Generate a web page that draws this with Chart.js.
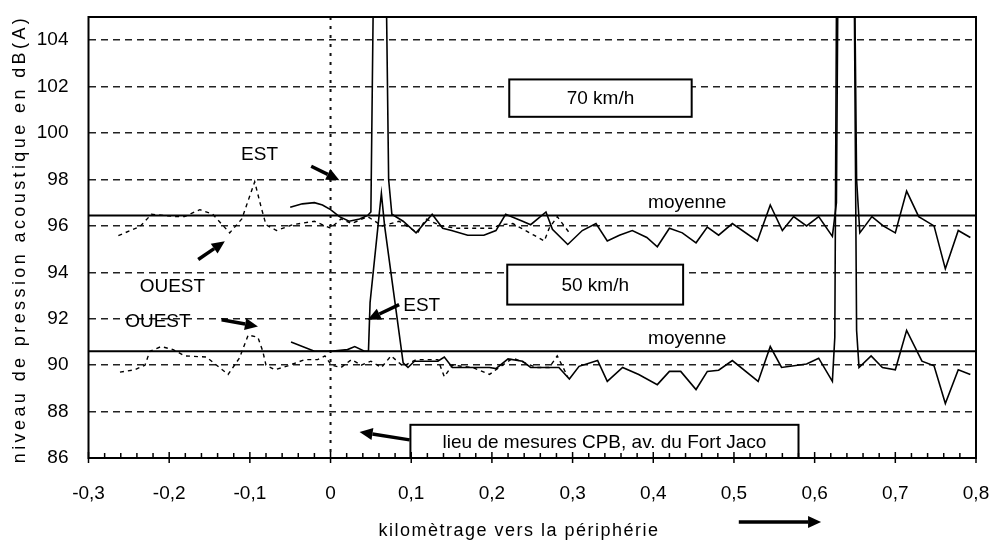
<!DOCTYPE html>
<html>
<head>
<meta charset="utf-8">
<title>Niveau de pression acoustique</title>
<script src="https://cdn.jsdelivr.net/npm/chart.js@4.4.1/dist/chart.umd.min.js"></script>
<style>
  html, body { margin: 0; padding: 0; background: #fff; }
  #wrap { width: 992px; height: 544px; }
</style>
</head>
<body>
<div id="wrap"><canvas id="chart" width="992" height="544"></canvas></div>
<script>
// 70 km/h, sens EST (trait plein)
const est70Km = [-0.05, -0.035, -0.02, -0.01, 0, 0.011, 0.023, 0.036, 0.046, 0.05, 0.055, 0.067, 0.072, 0.076, 0.09,
  0.106, 0.126, 0.139, 0.15, 0.17, 0.19, 0.205, 0.217, 0.238, 0.248, 0.267, 0.275, 0.294, 0.312, 0.329, 0.343, 0.358,
  0.374, 0.392, 0.405, 0.42, 0.436, 0.453, 0.467, 0.481, 0.498, 0.529, 0.545, 0.56, 0.574, 0.59, 0.605, 0.622, 0.627,
  0.63, 0.648, 0.652, 0.656, 0.671, 0.685, 0.7, 0.714, 0.729, 0.748, 0.762, 0.778, 0.793];
const est70Db = [96.8, 96.95, 97.0, 96.9, 96.7, 96.4, 96.2, 96.3, 96.45, 96.6, 112, 112, 98, 96.5, 96.2,
  95.7, 96.5, 95.9, 95.8, 95.6, 95.6, 95.8, 96.5, 96.2, 96.05, 96.6, 95.85, 95.2, 95.8, 96.1, 95.35, 95.6,
  95.8, 95.5, 95.1, 95.9, 95.7, 95.27, 95.95, 95.6, 96.1, 95.35, 96.9, 95.8, 96.4, 96.0, 96.4, 95.55, 97,
  112, 112, 98, 95.7, 96.4, 96.0, 95.7, 97.5, 96.4, 96.0, 94.15, 95.8, 95.5];

// 70 km/h, sens OUEST (tirets)
const ouest70Km = [-0.263, -0.236, -0.222, -0.191, -0.181, -0.162, -0.146, -0.125, -0.11, -0.094, -0.086, -0.08,
  -0.067, -0.047, -0.02, 0, 0.013, 0.026, 0.046, 0.064, 0.085, 0.108, 0.118, 0.137, 0.156, 0.18, 0.2, 0.211, 0.226,
  0.252, 0.265, 0.271, 0.281, 0.296];
const ouest70Db = [95.58, 95.98, 96.5, 96.4, 96.4, 96.7, 96.5, 95.7, 96.3, 97.9, 96.8, 96.05,
  95.8, 96.05, 96.2, 95.9, 96.3, 96.1, 96.4, 96.0, 96.2, 95.7, 96.3, 96.0, 95.9, 95.9, 95.9, 96.05, 96.1,
  95.6, 95.35, 95.9, 96.4, 95.7];

// 50 km/h, sens EST (trait plein)
const est50Km = [-0.049, -0.02, 0, 0.021, 0.03, 0.042, 0.047, 0.049, 0.063, 0.067, 0.09, 0.096, 0.104, 0.133, 0.141,
  0.151, 0.197, 0.205, 0.22, 0.238, 0.248, 0.267, 0.283, 0.296, 0.308, 0.331, 0.343, 0.362, 0.382, 0.405, 0.42,
  0.434, 0.453, 0.467, 0.481, 0.498, 0.53, 0.545, 0.559, 0.59, 0.605, 0.622, 0.625, 0.628, 0.648, 0.652, 0.655,
  0.67, 0.684, 0.7, 0.714, 0.733, 0.748, 0.762, 0.778, 0.793];
const est50Db = [91.0, 90.6, 90.6, 90.67, 90.8, 90.6, 90.6, 92.7, 97.4, 96.0, 90.1, 89.9, 90.17, 90.17, 90.35,
  89.9, 89.9, 89.85, 90.27, 90.17, 89.9, 89.9, 89.9, 89.4, 89.95, 90.2, 89.3, 89.9, 89.6, 89.16, 89.73,
  89.73, 88.95, 89.73, 89.78, 90.2, 89.3, 90.8, 89.9, 90.05, 90.3, 89.3, 91.2, 112, 112, 91.5, 89.9,
  90.4, 89.9, 89.8, 91.5, 90.17, 89.97, 88.35, 89.8, 89.6];

// 50 km/h, sens OUEST (tirets)
const ouest50Km = [-0.261, -0.243, -0.23, -0.224, -0.21, -0.195, -0.181, -0.154, -0.127, -0.113, -0.102, -0.09,
  -0.084, -0.08, -0.069, -0.053, -0.032, -0.016, -0.007, 0.001, 0.013, 0.026, 0.038, 0.05, 0.063, 0.075, 0.09,
  0.106, 0.133, 0.141, 0.151, 0.176, 0.197, 0.209, 0.226, 0.255, 0.271, 0.281, 0.294];
const ouest50Db = [89.7, 89.8, 90.0, 90.6, 90.8, 90.67, 90.4, 90.35, 89.6, 90.3, 91.3, 91.2,
  90.6, 90.0, 89.8, 89.97, 90.24, 90.24, 90.4, 90.0, 89.9, 90.24, 90.0, 90.17, 89.9, 90.4, 89.95,
  90.24, 90.24, 89.5, 90.0, 89.9, 89.6, 89.9, 90.3, 89.9, 89.9, 90.4, 89.5];

// moyennes
const moyenne70 = 96.45;
const moyenne50 = 90.6;

const xMin = -0.3, xMax = 0.8;
const yMin = 86, yMax = 105;

const xTitle = 'kilomètrage vers la périphérie';
const yTitle = 'niveau de pression acoustique en dB(A)';

const FONT = '"Liberation Sans", Arial, sans-serif';

function toPoints(xs, ys) {
  return xs.map((x, i) => ({ x: x, y: ys[i] }));
}

function flatLine(v) {
  return [{ x: xMin, y: v }, { x: xMax, y: v }];
}

// annotations (data coordinates)
const labels = [
  { text: 'EST', x: -0.088, y: 99.06 },
  { text: 'OUEST', x: -0.196, y: 93.36 },
  { text: 'OUEST', x: -0.214, y: 91.85 },
  { text: 'EST', x: 0.113, y: 92.54 },
  { text: 'moyenne', x: 0.442, y: 97.0 },
  { text: 'moyenne', x: 0.442, y: 91.15 }
];
const boxes = [
  { text: '70 km/h', x0: 0.2215, x1: 0.4476, y0: 102.31, y1: 100.7 },
  { text: '50 km/h', x0: 0.219, x1: 0.437, y0: 94.33, y1: 92.61 },
  { text: 'lieu de mesures CPB, av. du Fort Jaco', x0: 0.099, x1: 0.58, y0: 87.43, y1: 86 }
];
const arrows = [
  [-0.024, 98.57, 0.011, 97.97],
  [-0.164, 94.55, -0.131, 95.34],
  [-0.135, 91.96, -0.09, 91.67],
  [0.085, 92.61, 0.046, 91.96],
  [0.098, 86.78, 0.036, 87.12]
];

function drawArrow(ctx, x1, y1, x2, y2) {
  const ang = Math.atan2(y2 - y1, x2 - x1);
  const head = 13, half = 6;
  const bx = x2 - head * Math.cos(ang), by = y2 - head * Math.sin(ang);
  ctx.lineWidth = 3.5;
  ctx.beginPath();
  ctx.moveTo(x1, y1);
  ctx.lineTo(bx, by);
  ctx.stroke();
  ctx.beginPath();
  ctx.moveTo(x2, y2);
  ctx.lineTo(bx + half * Math.sin(ang), by - half * Math.cos(ang));
  ctx.lineTo(bx - half * Math.sin(ang), by + half * Math.cos(ang));
  ctx.closePath();
  ctx.fill();
}

const decorations = {
  id: 'decorations',
  beforeDatasetsDraw(chart) {
    const { ctx, chartArea, scales: { x } } = chart;
    // dotted vertical line at km 0
    const x0 = x.getPixelForValue(0);
    ctx.save();
    ctx.strokeStyle = '#111';
    ctx.lineWidth = 2;
    ctx.setLineDash([3, 6]);
    ctx.beginPath();
    ctx.moveTo(x0, chartArea.top);
    ctx.lineTo(x0, chartArea.bottom);
    ctx.stroke();
    ctx.restore();
  },
  afterDatasetsDraw(chart) {
    const { ctx, chartArea, scales: { x, y } } = chart;
    ctx.save();
    ctx.fillStyle = '#000';
    ctx.strokeStyle = '#000';

    // boxes
    ctx.font = '19px ' + FONT;
    ctx.textAlign = 'center';
    ctx.textBaseline = 'middle';
    boxes.forEach(b => {
      const l = x.getPixelForValue(b.x0), r = x.getPixelForValue(b.x1);
      const t = y.getPixelForValue(b.y0), bt = y.getPixelForValue(b.y1);
      ctx.fillStyle = '#fff';
      ctx.fillRect(l, t, r - l, bt - t);
      ctx.lineWidth = 2;
      ctx.strokeRect(l, t, r - l, bt - t);
      ctx.fillStyle = '#000';
      ctx.fillText(b.text, (l + r) / 2, (t + bt) / 2 + 1);
    });

    labels.forEach(lb => {
      ctx.fillText(lb.text, x.getPixelForValue(lb.x), y.getPixelForValue(lb.y));
    });

    arrows.forEach(a => {
      drawArrow(ctx, x.getPixelForValue(a[0]), y.getPixelForValue(a[1]),
        x.getPixelForValue(a[2]), y.getPixelForValue(a[3]));
    });

    // arrow next to the x axis title
    const ay = chartArea.bottom + 64;
    drawArrow(ctx, x.getPixelForValue(0.506), ay, x.getPixelForValue(0.608), ay);

    // minor / major ticks on the x axis
    ctx.lineWidth = 1.5;
    for (let i = 0; i <= 55; i++) {
      const px = x.getPixelForValue(xMin + i * 0.02);
      const major = i % 5 === 0;
      ctx.beginPath();
      ctx.moveTo(px, chartArea.bottom - (major ? 6 : 5));
      ctx.lineTo(px, chartArea.bottom + (major ? 5 : 0));
      ctx.stroke();
    }

    // plot frame
    ctx.lineWidth = 2;
    ctx.strokeRect(chartArea.left, chartArea.top, chartArea.right - chartArea.left, chartArea.bottom - chartArea.top);

    // axis titles (letter-spaced like the original)
    ctx.font = '18px ' + FONT;
    ctx.letterSpacing = '1.5px';
    ctx.fillText(xTitle, 519, chartArea.bottom + 73);
    ctx.translate(20, 239);
    ctx.rotate(-Math.PI / 2);
    ctx.letterSpacing = '3.4px';
    ctx.fillText(yTitle, 0, 0);
    ctx.restore();
  }
};

const solid = { borderColor: '#000', borderWidth: 1.6, pointRadius: 0, tension: 0, fill: false };
const dashed = { borderColor: '#000', borderWidth: 1.4, borderDash: [4, 4], pointRadius: 0, tension: 0, fill: false };
const mean = { borderColor: '#000', borderWidth: 2, pointRadius: 0, fill: false };

new Chart(document.getElementById('chart'), {
  type: 'line',
  data: {
    datasets: [
      Object.assign({ label: 'EST 70 km/h', data: toPoints(est70Km, est70Db) }, solid),
      Object.assign({ label: 'OUEST 70 km/h', data: toPoints(ouest70Km, ouest70Db) }, dashed),
      Object.assign({ label: 'EST 50 km/h', data: toPoints(est50Km, est50Db) }, solid),
      Object.assign({ label: 'OUEST 50 km/h', data: toPoints(ouest50Km, ouest50Db) }, dashed),
      Object.assign({ label: 'moyenne 70 km/h', data: flatLine(moyenne70) }, mean),
      Object.assign({ label: 'moyenne 50 km/h', data: flatLine(moyenne50) }, mean)
    ]
  },
  options: {
    responsive: false,
    animation: false,
    devicePixelRatio: 1,
    layout: { padding: { top: 17, right: 16, left: 0, bottom: 0 } },
    plugins: {
      legend: { display: false },
      tooltip: { enabled: false }
    },
    scales: {
      x: {
        type: 'linear',
        min: xMin,
        max: xMax,
        afterFit: s => { s.height = 86; s.paddingLeft = 0; s.paddingRight = 0; },
        grid: { display: false, drawTicks: false },
        border: { display: false },
        ticks: {
          stepSize: 0.1,
          padding: 24,
          color: '#000',
          font: { family: FONT, size: 19 },
          maxRotation: 0,
          callback: v => {
            const r = Math.round(v * 10) / 10;
            return r === 0 ? '0' : r.toFixed(1).replace('.', ',');
          }
        }
      },
      y: {
        min: yMin,
        max: yMax,
        afterFit: s => { s.width = 88.5; s.paddingTop = 0; s.paddingBottom = 0; },
        grid: { color: '#222', lineWidth: 1.5, drawTicks: false },
        border: { display: false, dash: [7, 5] },
        ticks: {
          stepSize: 2,
          includeBounds: false,
          padding: 20,
          color: '#000',
          font: { family: FONT, size: 19 }
        }
      }
    }
  },
  plugins: [decorations]
});
</script>
</body>
</html>
